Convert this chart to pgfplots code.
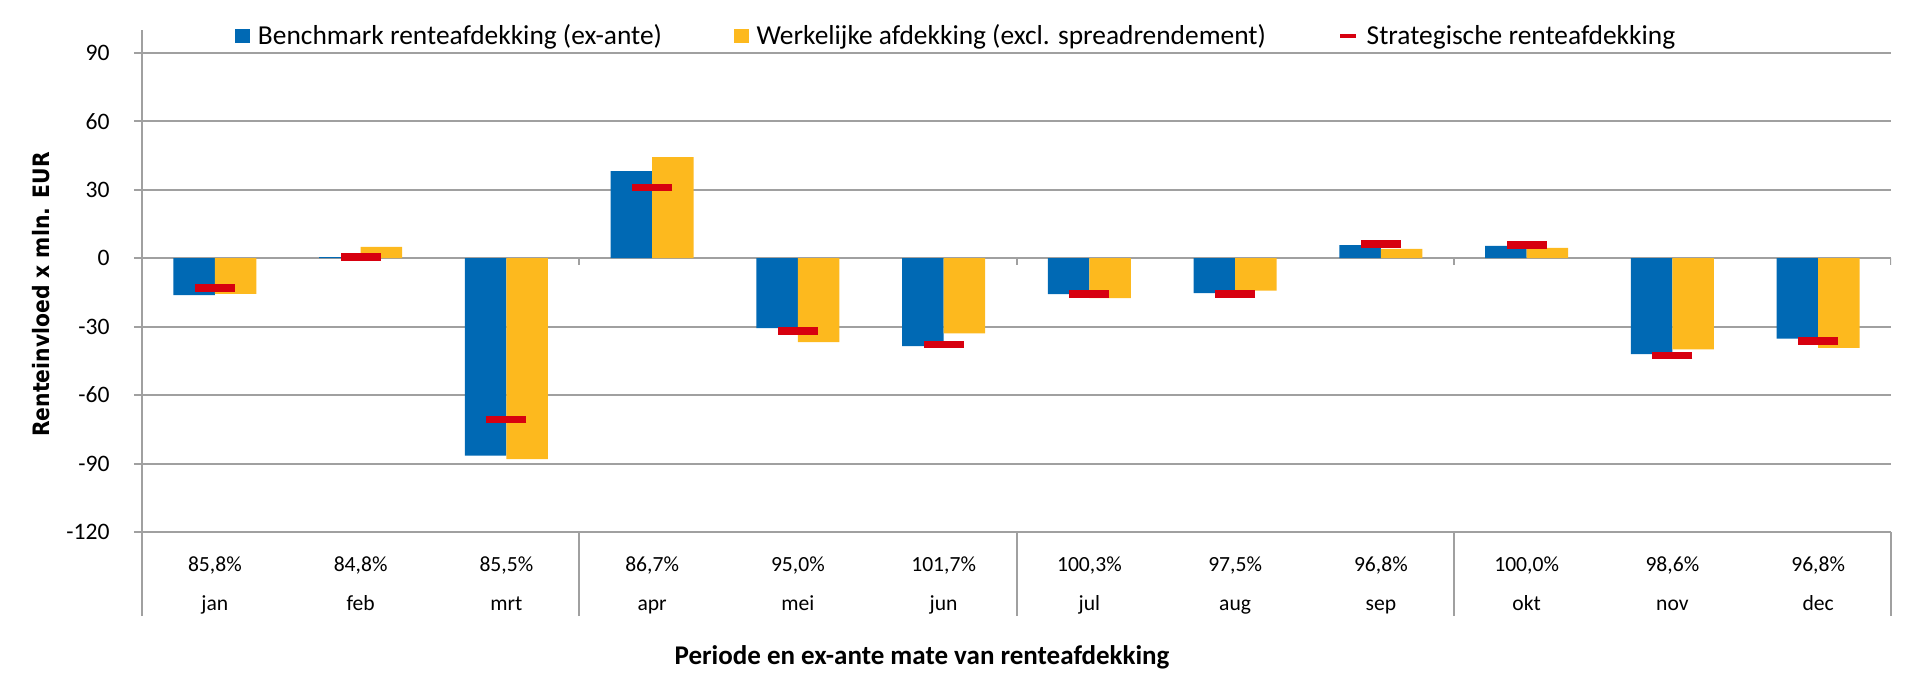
\documentclass[border=0pt]{standalone}
\usepackage{fontspec}
\setmainfont{Carlito}
\newfontfamily\ylabfont{DejaVu Sans Condensed}
\usepackage{pgfplots}
\pgfplotsset{compat=1.18}
\definecolor{bblue}{RGB}{0,105,180}
\definecolor{byellow}{RGB}{253,185,30}
\definecolor{bred}{RGB}{215,0,15}
\definecolor{gridgray}{RGB}{160,160,160}
\begin{document}
\begin{tikzpicture}
\useasboundingbox (0,0) rectangle (959.5pt,344pt);
\begin{axis}[
  at={(71pt,78pt)}, anchor=south west,
  scale only axis, width=874.5pt, height=251pt,
  xmin=-0.5, xmax=11.5, ymin=-120, ymax=100,
  ytick={-120,-90,...,90},
  ymajorgrids,
  grid style={gridgray, line width=1pt},
  axis x line*=bottom, axis y line*=left,
  axis line style={gridgray, line width=1pt, -},
  tick style={gridgray, line width=1pt},
  tick align=outside,
  major tick length=4pt,
  /pgf/number format/assume math mode=true,
  yticklabel style={font=\fontsize{11.8}{13}\selectfont, inner sep=0pt, xshift=-12pt},
  xtick={0,...,11},
  xtick style={draw=none},
  xticklabels={{85,8\%\\jan},{84,8\%\\feb},{85,5\%\\mrt},{86,7\%\\apr},{95,0\%\\mei},{101,7\%\\jun},{100,3\%\\jul},{97,5\%\\aug},{96,8\%\\sep},{100,0\%\\okt},{98,6\%\\nov},{96,8\%\\dec}},
  xticklabel style={font=\fontsize{10.8}{19.5}\selectfont, align=center, anchor=north, inner sep=0pt, yshift=-8pt},
  extra x ticks={-0.5,2.5,5.5,8.5,11.5},
  extra x tick labels={},
  extra x tick style={major tick length=42pt, grid=none, xtick style={draw=gridgray, line width=1pt}},
  xlabel={Periode en ex-ante mate van renteafdekking},
  xlabel style={at={(axis description cs:0.446,-0.249)}, anchor=center, font=\fontsize{13.5}{16}\selectfont\bfseries},
  ylabel={Renteinvloed x mln. EUR},
  ylabel style={at={(axis description cs:-0.0577,0.473)}, anchor=center, font=\ylabfont\bfseries\fontsize{11.3}{13}\selectfont},
  legend columns=3,
  legend style={at={(axis description cs:0.465,0.988)}, anchor=center, draw=none, fill=none,
    font=\fontsize{13.7}{15}\selectfont,
    /tikz/every even column/.append style={column sep=36pt},
    /tikz/every odd column/.append style={column sep=4pt},
    nodes={inner sep=0pt}},
]
\addplot[ybar, bar width=0.285, bar shift=-0.1425, fill=bblue, draw=none,
  legend image code/.code={\fill[bblue] (0pt,-3.6pt) rectangle (7.3pt,3.6pt);}]
  coordinates {(0,-16.2) (1,0.5) (2,-86.5) (3,38.2) (4,-30.7) (5,-38.5) (6,-15.8) (7,-15.3) (8,5.7) (9,5.4) (10,-42.0) (11,-35.3)};
\addlegendentry{Benchmark renteafdekking (ex-ante)}
\addplot[ybar, bar width=0.285, bar shift=0.1425, fill=byellow, draw=none,
  legend image code/.code={\fill[byellow] (0pt,-3.6pt) rectangle (7.3pt,3.6pt);}]
  coordinates {(0,-15.6) (1,5.0) (2,-88.1) (3,44.3) (4,-36.8) (5,-33.0) (6,-17.5) (7,-14.2) (8,4.1) (9,4.5) (10,-40.0) (11,-39.3)};
\addlegendentry{Werkelijke afdekking (excl. spreadrendement)}
\addplot[only marks, mark=-, mark size=10pt, mark options={bred, line width=3.8pt},
  legend image code/.code={\draw[bred, line width=2.4pt] (0pt,0pt) -- (8pt,0pt);}]
  coordinates {(0,-13.1) (1,0.6) (2,-70.7) (3,31.0) (4,-32.0) (5,-37.8) (6,-15.8) (7,-15.6) (8,6.1) (9,5.7) (10,-42.6) (11,-36.4)};
\addlegendentry{Strategische renteafdekking}
\pgfplotsinvokeforeach{2.5,5.5,8.5,11.5}{\draw[gridgray, line width=1pt] (axis cs:#1,0) -- ([yshift=-3.5pt]axis cs:#1,0);}
\end{axis}
\end{tikzpicture}
\end{document}
